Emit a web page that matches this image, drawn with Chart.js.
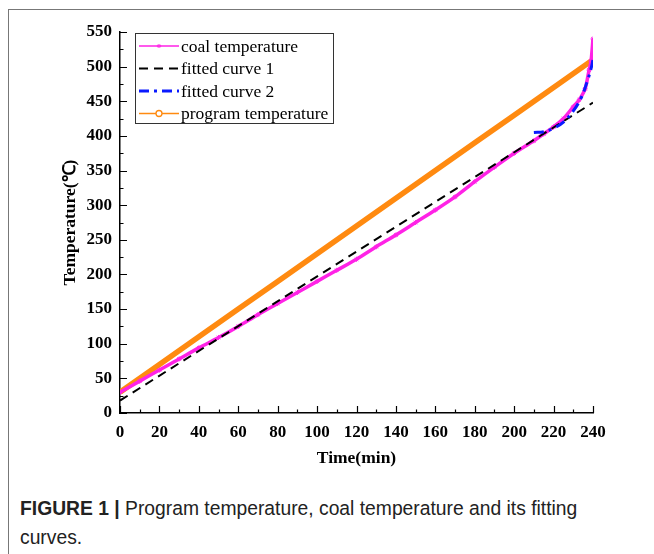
<!DOCTYPE html>
<html>
<head>
<meta charset="utf-8">
<script src="https://cdn.jsdelivr.net/npm/chart.js@4/dist/chart.umd.min.js"></script>
<style>
  html, body { margin: 0; padding: 0; background: #fff; }
  body { width: 654px; height: 554px; position: relative; overflow: hidden; }
  #frame { position: absolute; left: 8px; top: 9px; width: 660px; height: 560px;
           border-left: 1px solid #777; border-top: 1px solid #777; }
  #wrap { position: absolute; left: 0; top: 0; width: 654px; height: 480px; }
  #caption { position: absolute; left: 20px; top: 494px; width: 630px;
             font-family: "Liberation Sans", Arial, sans-serif;
             font-size: 19.3px; line-height: 29px; color: #222; }
  #caption b { font-weight: bold; }
</style>
</head>
<body>
<div id="frame"></div>
<div id="wrap"><canvas id="tempChart" width="654" height="480"></canvas></div>
<div id="caption"><b>FIGURE 1 |</b> Program temperature, coal temperature and its fitting<br>curves.</div>

<script>
// temps (min)
const tCoal = [0, 10, 20, 30, 40, 50, 60, 70, 80, 90, 100, 110, 120, 130, 140, 150, 160, 170, 180, 190, 200, 210, 215, 220, 225, 230, 233, 236, 238, 239, 240];
const coalTemp = [30, 46, 62, 78, 94, 109, 125, 142, 158, 174, 190, 206, 222, 240, 257, 275, 293, 312, 334, 355, 375, 393, 403, 413, 425, 442, 452, 468, 495, 508, 540];

const tFit1 = [0, 240];
const fit1Temp = [18, 448];

const tFit2 = [210, 215, 220, 225, 230, 234, 237, 239, 240];
const fit2Temp = [405, 406, 411, 420, 436, 455, 478, 497, 510];

const tProg = [0, 20, 40, 60, 80, 100, 120, 140, 160, 180, 200, 220, 240];
const progTemp = [30, 70, 110, 150, 190, 230, 270, 310, 350, 390, 430, 470, 510];

const xTicks = [0, 20, 40, 60, 80, 100, 120, 140, 160, 180, 200, 220, 240];
const yTicks = [0, 50, 100, 150, 200, 250, 300, 350, 400, 450, 500, 550];

function points(xs, ys) {
  return xs.map((x, i) => ({ x: x, y: ys[i] }));
}

const serif = "'Liberation Serif', 'Times New Roman', serif";

// ticks vers l'intérieur + légende encadrée
const innerTicks = {
  id: "innerTicks",
  afterDraw(chart) {
    const ctx = chart.ctx;
    const xs = chart.scales.x, ys = chart.scales.y;
    const area = chart.chartArea;
    ctx.save();
    ctx.strokeStyle = "#000";
    ctx.lineWidth = 1.2;
    ctx.beginPath();
    for (let v = 0; v <= 240; v += 10) {
      const px = Math.round(xs.getPixelForValue(v)) + 0.5;
      const len = v % 20 === 0 ? 7 : 3.5;
      ctx.moveTo(px, area.bottom);
      ctx.lineTo(px, area.bottom - len);
    }
    for (let v = 0; v <= 550; v += 25) {
      const py = Math.round(ys.getPixelForValue(v)) + 0.5;
      const len = v % 50 === 0 ? 7 : 3.5;
      ctx.moveTo(area.left, py);
      ctx.lineTo(area.left + len, py);
    }
    ctx.stroke();

    // légende
    const bx = area.left + 15, by = area.top + 1, bw = 198, bh = 90;
    ctx.fillStyle = "#fff";
    ctx.fillRect(bx, by, bw, bh);
    ctx.lineWidth = 1;
    ctx.strokeStyle = "#333";
    ctx.strokeRect(bx + 0.5, by + 0.5, bw, bh);
    ctx.textBaseline = "middle";
    chart.data.datasets.forEach((ds, i) => {
      const y = by + 13 + i * 22.5;
      const x0 = bx + 4, x1 = bx + 44;
      ctx.save();
      ctx.strokeStyle = ds.borderColor;
      ctx.lineWidth = ds.legendWidth;
      ctx.setLineDash(ds.legendDash || []);
      ctx.beginPath();
      ctx.moveTo(x0, y);
      ctx.lineTo(x1, y);
      ctx.stroke();
      ctx.setLineDash([]);
      if (ds.legendMarker === "star") {
        ctx.fillStyle = ds.borderColor;
        ctx.font = "bold 11px " + serif;
        ctx.textAlign = "center";
        ctx.fillText("*", (x0 + x1) / 2, y + 2);
      } else if (ds.legendMarker === "circle") {
        ctx.lineWidth = 1.3;
        ctx.beginPath();
        ctx.arc((x0 + x1) / 2, y, 3, 0, Math.PI * 2);
        ctx.fillStyle = "#fff";
        ctx.fill();
        ctx.stroke();
      }
      ctx.restore();
      ctx.fillStyle = "#000";
      ctx.textAlign = "left";
      ctx.font = "17.5px " + serif;
      ctx.fillText(ds.label, x1 + 2, y + 1);
    });
    ctx.restore();
  }
};

const ctx = document.getElementById("tempChart").getContext("2d");
new Chart(ctx, {
  type: "line",
  data: {
    datasets: [
      {
        label: "coal temperature",
        data: points(tCoal, coalTemp),
        borderColor: "#ff22e6",
        backgroundColor: "#ff22e6",
        borderWidth: 3.5,
        pointStyle: "star",
        pointRadius: 2.5,
        pointBorderWidth: 1,
        tension: 0.3,
        order: 2,
        legendWidth: 1.5,
        legendMarker: "star"
      },
      {
        label: "fitted curve 1",
        data: points(tFit1, fit1Temp),
        borderColor: "#000",
        borderWidth: 2,
        borderDash: [9, 6],
        pointRadius: 0,
        order: 1,
        legendWidth: 2,
        legendDash: [9, 6]
      },
      {
        label: "fitted curve 2",
        data: points(tFit2, fit2Temp),
        borderColor: "#0a1aff",
        borderWidth: 3,
        borderDash: [10, 5, 3, 5],
        pointRadius: 0,
        tension: 0.4,
        order: 0,
        legendWidth: 3,
        legendDash: [10, 5, 3, 5]
      },
      {
        label: "program temperature",
        data: points(tProg, progTemp),
        borderColor: "#ff8a10",
        borderWidth: 5.5,
        pointRadius: 0,
        order: 3,
        legendWidth: 1.5,
        legendMarker: "circle"
      }
    ]
  },
  options: {
    responsive: false,
    animation: false,
    layout: { padding: { left: 0, right: 61, top: 32, bottom: 0 } },
    plugins: {
      legend: { display: false },
      tooltip: { enabled: false }
    },
    scales: {
      x: {
        type: "linear",
        min: 0,
        max: 240,
        afterBuildTicks: s => { s.ticks = xTicks.map(v => ({ value: v })); },
        afterFit: s => { s.height = 67; },
        grid: { display: false, drawTicks: false },
        border: { display: true, color: "#000", width: 1.5 },
        ticks: { color: "#000", padding: 9, maxRotation: 0, font: { family: serif, size: 17, weight: "bold" } },
        title: {
          display: true,
          text: "Time(min)",
          color: "#000",
          font: { family: serif, size: 17.5, weight: "bold" },
          padding: { top: 11.5, bottom: 11.5 }
        }
      },
      y: {
        min: 0,
        max: 550,
        afterBuildTicks: s => { s.ticks = yTicks.map(v => ({ value: v })); },
        afterFit: s => { s.width = 120; },
        grid: { display: false, drawTicks: false },
        border: { display: true, color: "#000", width: 1.5 },
        ticks: { color: "#000", padding: 8, font: { family: serif, size: 17, weight: "bold" } },
        title: {
          display: true,
          text: "Temperature(℃)",
          color: "#000",
          font: { family: serif, size: 17.5, weight: "bold" },
          padding: { top: 59.5, bottom: 59.5 }
        }
      }
    }
  },
  plugins: [innerTicks]
});
</script>
</body>
</html>
